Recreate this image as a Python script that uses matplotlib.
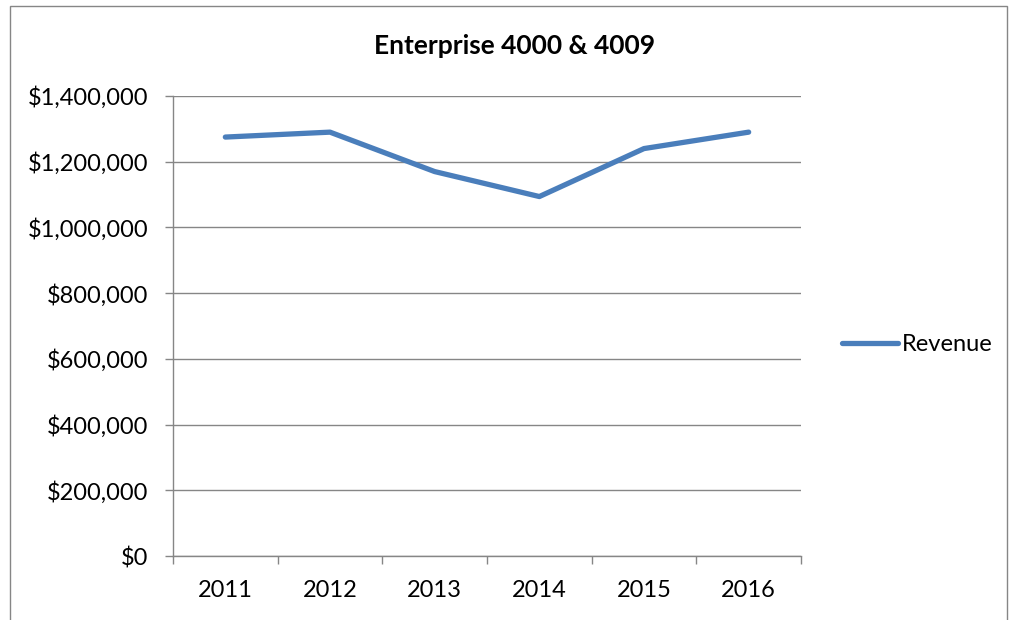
import matplotlib
matplotlib.use("Agg")
import matplotlib.pyplot as plt
from matplotlib.patches import Rectangle
from matplotlib.ticker import FuncFormatter, FixedLocator

years = ["2011", "2012", "2013", "2014", "2015", "2016"]
revenue = [1275000, 1290000, 1170000, 1094000, 1240000, 1290000]
series_name = "Revenue"
title = "Enterprise 4000 & 4009"

plt.rcParams['font.family'] = ['Lato', 'DejaVu Sans']

fig = plt.figure(figsize=(10.12, 6.2), dpi=100)
ax = fig.add_axes([173/1012, 1-556/620, (801-173)/1012, (556-96)/620])

x = list(range(len(years)))
ax.plot(x, revenue, color="#4A7EBB", lw=3.8, solid_capstyle="round",
        solid_joinstyle="round", label=series_name)

ax.set_xlim(-0.5, len(years) - 0.5)
ax.set_ylim(0, 1400000)
ax.yaxis.set_major_locator(FixedLocator(range(0, 1400001, 200000)))
ax.yaxis.set_major_formatter(FuncFormatter(lambda v, p: f"${v:,.0f}"))
ax.set_xticks(x)
ax.set_xticklabels(years)
ax.set_xticks([i - 0.5 for i in range(len(years) + 1)], minor=True)
ax.tick_params(axis="x", which="major", length=0, pad=17, labelsize=17)
ax.tick_params(axis="x", which="minor", length=5.5, color="#868686", width=1)
ax.tick_params(axis="y", length=5.5, color="#868686", width=1, labelsize=17, pad=12)

ax.grid(axis="y", color="#868686", lw=1)
ax.set_axisbelow(True)
for s in ["top", "right"]:
    ax.spines[s].set_visible(False)
for s in ["left", "bottom"]:
    ax.spines[s].set_color("#868686")
    ax.spines[s].set_linewidth(1)

fig.text(515/1012, 1-46/620, title, ha="center", va="center",
         fontsize=19, fontweight="bold")

ax.legend(loc="center left", bbox_to_anchor=(833/1012, 1-345/620),
          bbox_transform=fig.transFigure, frameon=False, fontsize=17,
          handlelength=2.35, handletextpad=0.18, borderaxespad=0)

fig.patches.append(Rectangle((10/1012, -0.1), (1007-10)/1012, 1.1 - 6/620,
                             transform=fig.transFigure, fill=False,
                             edgecolor="#868686", lw=1))

fig.savefig("out.png", dpi=100)
